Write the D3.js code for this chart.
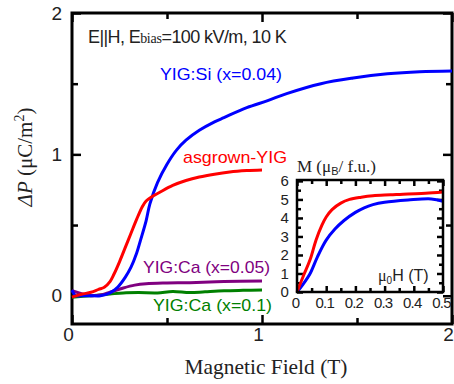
<!DOCTYPE html>
<html>
<head>
<meta charset="utf-8">
<script src="https://cdn.jsdelivr.net/npm/d3@7"></script>
<style>
  body { margin: 0; background: #fff; }
  svg { display: block; }
  .tk line { stroke: #000; stroke-width: 2.5; }
  .tk text { font-family: "Liberation Sans", Arial, sans-serif; fill: #222; }
</style>
</head>
<body>
<svg width="454" height="384"></svg>
<script>
// main panel: dP vs magnetic field (T)
var siField = [0, 0.02, 0.05, 0.1, 0.15, 0.2, 0.24, 0.28, 0.31, 0.34, 0.36, 0.39, 0.41, 0.45, 0.5, 0.55, 0.6, 0.67, 0.75, 0.8, 0.92, 1.03, 1.13, 1.31, 1.48, 1.66, 1.83, 2.0];
var siDP    = [0.04, 0.0, 0.0, 0.0, 0.0, 0.02, 0.06, 0.13, 0.2, 0.3, 0.39, 0.53, 0.65, 0.8, 0.93, 1.03, 1.1, 1.17, 1.23, 1.26, 1.33, 1.38, 1.43, 1.5, 1.54, 1.57, 1.585, 1.59];

var agField = [0, 0.05, 0.1, 0.14, 0.17, 0.2, 0.22, 0.25, 0.28, 0.31, 0.34, 0.37, 0.39, 0.42, 0.46, 0.53, 0.6, 0.67, 0.75, 0.83, 0.92, 1.0];
var agDP    = [-0.01, 0.01, 0.025, 0.045, 0.06, 0.1, 0.15, 0.24, 0.34, 0.44, 0.54, 0.63, 0.67, 0.7, 0.73, 0.78, 0.815, 0.84, 0.86, 0.875, 0.885, 0.89];

var ca05Field = [0, 0.05, 0.1, 0.15, 0.2, 0.27, 0.33, 0.39, 0.5, 0.62, 0.8, 1.0];
var ca05DP    = [0.035, 0.015, 0.0, 0.005, 0.025, 0.055, 0.075, 0.085, 0.09, 0.092, 0.1, 0.105];

var ca10Field = [0, 0.1, 0.2, 0.27, 0.35, 0.45, 0.53, 0.62, 0.7, 0.8, 0.9, 1.0];
var ca10DP    = [-0.01, 0.0, 0.012, 0.02, 0.022, 0.02, 0.03, 0.022, 0.028, 0.035, 0.038, 0.04];

// inset: M vs mu0H
var mAgField = [0, 0.02, 0.045, 0.065, 0.085, 0.1, 0.12, 0.15, 0.18, 0.22, 0.26, 0.32, 0.38, 0.44, 0.5];
var mAg      = [0, 0.8, 1.75, 2.8, 3.6, 4.05, 4.45, 4.8, 5.0, 5.12, 5.2, 5.25, 5.3, 5.33, 5.4];
var mSiField = [0, 0.02, 0.045, 0.07, 0.1, 0.13, 0.16, 0.2, 0.23, 0.26, 0.3, 0.38, 0.46, 0.5];
var mSi      = [0, 0.4, 1.0, 1.9, 2.8, 3.4, 3.85, 4.3, 4.55, 4.72, 4.85, 4.97, 5.03, 4.9];

var xMajor = [0, 1, 2], xMinor = [0.5, 1.5];
var yMajor = [0, 1, 2], yMinor = [0.5, 1.5];
var ixMajor = [0, 0.1, 0.2, 0.3, 0.4, 0.5], ixMinor = [0.05, 0.15, 0.25, 0.35, 0.45];
var iyMajor = [0, 1, 2, 3, 4, 5, 6], iyMinor = [0.5, 1.5, 2.5, 3.5, 4.5, 5.5];

var svg = d3.select("svg");

var x = d3.scaleLinear().domain([0, 2]).range([72, 452]);
var y = d3.scaleLinear().domain([-0.2, 2]).range([324, 13]);

function pts(xs, ys) {
	return xs.map(function(v, i) { return [v, ys[i]]; });
}
function noDomain(g) { g.select(".domain").remove(); }

// ticks, all pointing inwards
function ticks(axis, tr, vals, size, labels, pad) {
	return svg.append("g").attr("class", "tk")
		.attr("transform", tr)
		.call(axis.tickValues(vals).tickSize(-size).tickPadding(pad || 3)
			.tickFormat(labels ? d3.format("") : function() { return ""; }))
		.call(noDomain);
}
ticks(d3.axisBottom(x), "translate(0,324)", xMajor, 9, true, 4)
	.selectAll("text").attr("dx", -4);
ticks(d3.axisBottom(x), "translate(0,324)", xMinor, 6, false);
ticks(d3.axisTop(x), "translate(0,13)", xMajor, 9, false);
ticks(d3.axisTop(x), "translate(0,13)", xMinor, 6, false);
ticks(d3.axisLeft(y), "translate(72,0)", yMajor, 9, true, 10);
ticks(d3.axisLeft(y), "translate(72,0)", yMinor, 6, false);
ticks(d3.axisRight(y), "translate(452,0)", yMajor, 9, false);
ticks(d3.axisRight(y), "translate(452,0)", yMinor, 6, false);
svg.selectAll(".tk text").style("font-size", "19px");

svg.append("rect")
	.attr("x", 72).attr("y", 13).attr("width", 380).attr("height", 311)
	.attr("fill", "none").attr("stroke", "#000").attr("stroke-width", 3);

var line = d3.line()
	.x(function(d) { return x(d[0]); })
	.y(function(d) { return y(d[1]); })
	.curve(d3.curveCatmullRom.alpha(0.5));

var series = [
	{pts: pts(ca10Field, ca10DP), color: "#008000"},
	{pts: pts(ca05Field, ca05DP), color: "#800080"},
	{pts: pts(siField, siDP), color: "#0000ff"},
	{pts: pts(agField, agDP), color: "#ff0000"}
];
svg.selectAll("path.curve")
	.data(series)
	.join("path")
	.attr("class", "curve")
	.attr("d", function(d) { return line(d.pts); })
	.attr("fill", "none")
	.attr("stroke", function(d) { return d.color; })
	.attr("stroke-width", 3);

// labels
var sans = "'Liberation Sans', Arial, sans-serif",
    serif = "'Liberation Serif', 'Times New Roman', serif";

var ann = svg.append("text")
	.attr("x", 88).attr("y", 43)
	.attr("font-family", sans).attr("font-size", 18).attr("fill", "#222")
	.attr("letter-spacing", -0.6);
ann.append("tspan").text("E||H, E");
ann.append("tspan").attr("font-family", serif).attr("font-size", 14).attr("letter-spacing", -0.3).text("bias");
ann.append("tspan").text("=100 kV/m, 10 K");

function label(txt, lx, ly, color, len) {
	svg.append("text")
		.attr("x", lx).attr("y", ly)
		.attr("font-family", sans).attr("font-size", 17)
		.attr("fill", color)
		.attr("textLength", len).attr("lengthAdjust", "spacingAndGlyphs")
		.text(txt);
}
label("YIG:Si (x=0.04)", 160, 80, "#0000ff", 122);
label("asgrown-YIG", 183, 163, "#ff0000", 104);
label("YIG:Ca (x=0.05)", 143, 273, "#800080", 127);
label("YIG:Ca (x=0.1)", 153, 311, "#008000", 119);

svg.append("text")
	.attr("x", 266).attr("y", 374)
	.attr("text-anchor", "middle")
	.attr("font-family", serif).attr("font-size", 21).attr("fill", "#222")
	.attr("textLength", 163).attr("lengthAdjust", "spacingAndGlyphs")
	.text("Magnetic Field (T)");

var yt = svg.append("text")
	.attr("transform", "translate(32,157) rotate(-90)")
	.attr("text-anchor", "middle")
	.attr("font-family", serif).attr("font-size", 21).attr("fill", "#222");
yt.append("tspan").attr("font-style", "italic").text("ΔP");
yt.append("tspan").text(" (μC/m");
yt.append("tspan").attr("font-size", 14).attr("dy", -8).text("2");
yt.append("tspan").attr("dy", 8).text(")");

// inset
var xi = d3.scaleLinear().domain([0, 0.5]).range([297, 443]);
var yi = d3.scaleLinear().domain([0, 6.05]).range([292, 180]);

svg.append("rect")
	.attr("x", 297).attr("y", 180).attr("width", 146).attr("height", 112)
	.attr("fill", "#fff");

ticks(d3.axisBottom(xi), "translate(0,292)", ixMajor, 6, true, 5)
	.selectAll("text").attr("dx", -2);
ticks(d3.axisBottom(xi), "translate(0,292)", ixMinor, 4, false);
ticks(d3.axisTop(xi), "translate(0,180)", ixMajor, 6, false);
ticks(d3.axisTop(xi), "translate(0,180)", ixMinor, 4, false);
ticks(d3.axisLeft(yi), "translate(297,0)", iyMajor, 6, true, 9);
ticks(d3.axisLeft(yi), "translate(297,0)", iyMinor, 4, false);
ticks(d3.axisRight(yi), "translate(443,0)", iyMajor, 6, false);
ticks(d3.axisRight(yi), "translate(443,0)", iyMinor, 4, false);
svg.selectAll(".tk").filter(function() {
	var t = this.getAttribute("transform");
	return t.indexOf("292") > 0 || t.indexOf("297") > 0;
}).selectAll("text").style("font-size", "15px").attr("letter-spacing", -0.8);

var il = d3.line()
	.x(function(d) { return xi(d[0]); })
	.y(function(d) { return yi(d[1]); })
	.curve(d3.curveCatmullRom.alpha(0.5));

svg.selectAll("path.icurve")
	.data([{pts: pts(mSiField, mSi), color: "#0000ff"}, {pts: pts(mAgField, mAg), color: "#ff0000"}])
	.join("path")
	.attr("class", "icurve")
	.attr("d", function(d) { return il(d.pts); })
	.attr("fill", "none")
	.attr("stroke", function(d) { return d.color; })
	.attr("stroke-width", 3);

svg.append("rect")
	.attr("x", 297).attr("y", 180).attr("width", 146).attr("height", 112)
	.attr("fill", "none").attr("stroke", "#000").attr("stroke-width", 2.5);

var ml = svg.append("text")
	.attr("x", 297).attr("y", 172)
	.attr("font-family", serif).attr("font-size", 17).attr("fill", "#222");
ml.append("tspan").text("M (μ");
ml.append("tspan").attr("font-family", sans).attr("font-size", 11).attr("dy", 3).text("B");
ml.append("tspan").attr("dy", -3).text("/ f.u.)");

var hl = svg.append("text")
	.attr("x", 378).attr("y", 281)
	.attr("font-family", sans).attr("font-size", 16).attr("fill", "#222");
hl.append("tspan").attr("font-family", serif).text("μ");
hl.append("tspan").attr("font-size", 10).attr("dy", 3).text("0");
hl.append("tspan").attr("dy", -3).text("H (T)");
</script>
</body>
</html>
